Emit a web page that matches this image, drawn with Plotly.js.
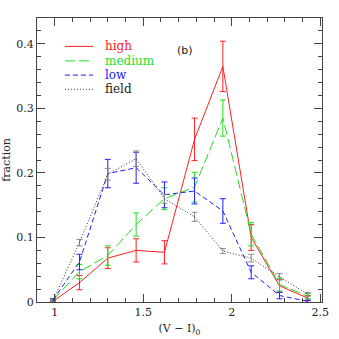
<!DOCTYPE html>
<html>
<head>
<meta charset="utf-8">
<script src="https://cdn.plot.ly/plotly-3.0.1.min.js"></script>
<style>
  html, body { margin: 0; padding: 0; background: #fff; }
  #chart { width: 339px; height: 339px; }
</style>
</head>
<body>
<div id="chart"></div>
<script>
// colour bins (V - I)_0
var colourBins = [0.99, 1.14, 1.30, 1.46, 1.62, 1.79, 1.95, 2.11, 2.27, 2.43];

// fractions per bin and their errors
var highFrac   = [0.001, 0.030, 0.068, 0.080, 0.077, 0.252, 0.365, 0.100, 0.025, 0.006];
var highErr    = [0.001, 0.011, 0.016, 0.018, 0.018, 0.033, 0.039, 0.020, 0.010, 0.004];
var mediumFrac = [0.003, 0.047, 0.072, 0.120, 0.160, 0.178, 0.285, 0.105, 0.027, 0.009];
var mediumErr  = [0.002, 0.011, 0.015, 0.018, 0.017, 0.023, 0.028, 0.018, 0.010, 0.004];
var lowFrac    = [0.003, 0.062, 0.199, 0.208, 0.166, 0.172, 0.141, 0.046, 0.010, 0.001];
var lowErr     = [0.002, 0.012, 0.022, 0.024, 0.020, 0.020, 0.019, 0.010, 0.005, 0.002];
var fieldFrac  = [0.002, 0.092, 0.198, 0.222, 0.160, 0.132, 0.079, 0.068, 0.039, 0.012];
var fieldErr   = [0.001, 0.005, 0.009, 0.012, 0.007, 0.007, 0.004, 0.006, 0.005, 0.003];

var seriesNames = ['high', 'medium', 'low', 'field'];
var seriesColors = ['#ff2020', '#20e020', '#2020ff', '#333333'];
var seriesDash = ['solid', '10px,4px', '5px,3px', '1px,2px'];
var errColors = ['#ff2020', '#20e020', '#2020ff', '#888888'];

function makeTrace(i, y, err) {
    return {
        x: colourBins,
        y: y,
        name: seriesNames[i],
        type: 'scatter',
        mode: 'lines',
        showlegend: false,
        line: { color: seriesColors[i], width: 1, dash: seriesDash[i] },
        error_y: { type: 'data', array: err, visible: true, color: errColors[i], thickness: 1, width: 3 }
    };
}

var data = [
    makeTrace(0, highFrac, highErr),
    makeTrace(1, mediumFrac, mediumErr),
    makeTrace(2, lowFrac, lowErr),
    makeTrace(3, fieldFrac, fieldErr)
];

var axisFont = { family: 'DejaVu Serif, serif', size: 11, color: '#222' };

// hand-made legend (tighter rows than plotly's own legend)
var legendShapes = [];
var legendNotes = [];
var rowY = [0.900, 0.849, 0.799, 0.749];
for (var i = 0; i < seriesNames.length; i++) {
    legendShapes.push({
        type: 'line', xref: 'paper', yref: 'paper',
        x0: 0.098, x1: 0.197, y0: rowY[i], y1: rowY[i],
        line: { color: seriesColors[i], width: 1, dash: seriesDash[i] }
    });
    legendNotes.push({
        text: seriesNames[i], xref: 'paper', yref: 'paper',
        x: 0.232, y: rowY[i], xanchor: 'left', yanchor: 'middle',
        showarrow: false,
        font: { family: 'DejaVu Serif, serif', size: 12, color: i === 3 ? '#222' : seriesColors[i] }
    });
}
legendNotes.push({
    text: '(b)', xref: 'paper', yref: 'paper', x: 0.52, y: 0.915,
    showarrow: false, font: { family: 'DejaVu Sans, sans-serif', size: 11, color: '#222' }
});

var layout = {
    width: 339,
    height: 339,
    margin: { l: 37, r: 17, t: 18, b: 37 },
    paper_bgcolor: '#fff',
    plot_bgcolor: '#fff',
    showlegend: false,
    xaxis: {
        range: [0.9, 2.51],
        tickvals: [1, 1.5, 2, 2.5],
        ticktext: ['1', '1.5', '2', '2.5'],
        ticks: 'inside', ticklen: 8, tickcolor: '#444',
        minor: { dtick: 0.1, ticks: 'inside', ticklen: 4, tickcolor: '#444' },
        showline: true, linecolor: '#444', linewidth: 1, mirror: 'allticks',
        showgrid: false, zeroline: false,
        tickfont: axisFont,
        title: { text: '(V − I)<sub>0</sub>', font: axisFont, standoff: 6 }
    },
    yaxis: {
        range: [0, 0.44],
        tickvals: [0, 0.1, 0.2, 0.3, 0.4],
        ticktext: ['0', '0.1', '0.2', '0.3', '0.4'],
        ticks: 'inside', ticklen: 8, tickcolor: '#444',
        minor: { dtick: 0.02, ticks: 'inside', ticklen: 4, tickcolor: '#444' },
        showline: true, linecolor: '#444', linewidth: 1, mirror: 'allticks',
        showgrid: false, zeroline: false,
        tickfont: axisFont,
        title: { text: 'fraction', font: axisFont, standoff: 4 }
    },
    shapes: legendShapes,
    annotations: legendNotes
};

Plotly.newPlot('chart', data, layout, { displayModeBar: false, staticPlot: true });
</script>
</body>
</html>
